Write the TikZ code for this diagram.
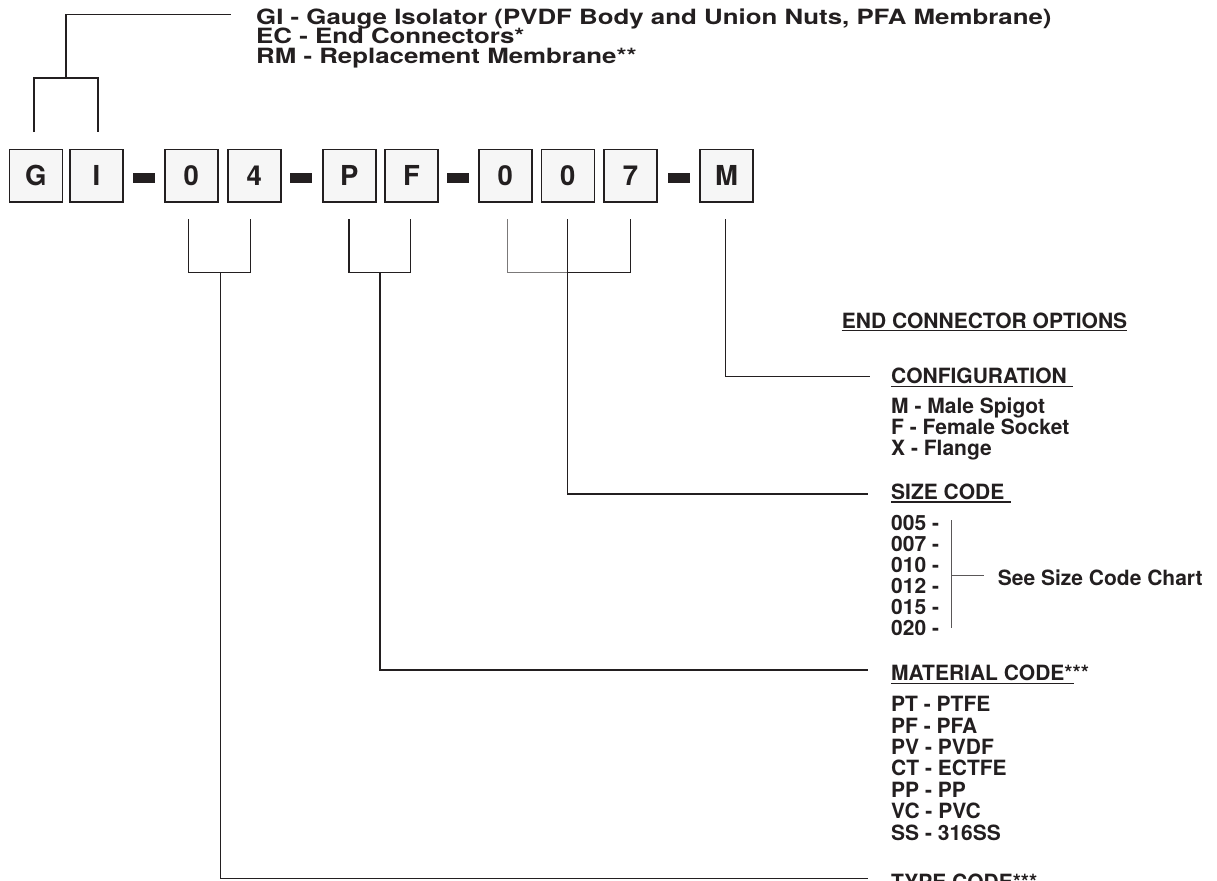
\documentclass[tikz,border=0pt]{standalone}
\usepackage{fontspec}
\usepackage{graphicx}
\setmainfont{TeX Gyre Heros}
\usetikzlibrary{calc}
\definecolor{ink}{HTML}{231F20}
\definecolor{boxfill}{HTML}{F6F6F6}
\begin{document}
\begin{tikzpicture}[x=1pt,y=-1pt,
  cell/.style={draw=ink, line width=1.6pt, fill=boxfill, minimum width=53pt, minimum height=52.4pt, inner sep=0pt, text=ink, font=\fontsize{27.5}{27.5}\selectfont\bfseries},
  dashbar/.style={fill=ink, draw=none, minimum width=22pt, minimum height=10pt, inner sep=0pt},
  conn/.style={draw=ink, line width=1.5pt},
  greyconn/.style={draw=ink!60, line width=1.2pt},
  thinconn/.style={draw=ink!75, line width=0.9pt},
  lbl/.style={anchor=base west, inner sep=0pt, text=ink, font=\fontsize{21}{21}\selectfont\bfseries},
  toplbl/.style={anchor=base west, inner sep=0pt, text=ink, font=\fontsize{21}{19}\selectfont\bfseries},
  uline/.style={draw=ink, line width=1.3pt},
]
\useasboundingbox (0,0) rectangle (1217,880);
\clip (0,0) rectangle (1217,880);
\fill[white] (0,0) rectangle (1217,880);

% code boxes
\node[cell] (g)  at (35.8,175.5)  {G};
\node[cell] (i)  at (96.5,175.5)  {I};
\node[dashbar] (d1) at (144,177.5) {};
\node[cell] (a0) at (191.2,175.5) {0};
\node[cell] (a4) at (254.2,175.5) {4};
\node[dashbar] (d2) at (301,177.5) {};
\node[cell] (p)  at (349.2,175.5) {P};
\node[cell] (f)  at (411.5,175.5) {F};
\node[dashbar] (d3) at (458,177.5) {};
\node[cell] (s0) at (505.2,175.5) {0};
\node[cell] (s1) at (567.8,175.5) {0};
\node[cell] (s7) at (630.5,175.5) {7};
\node[dashbar] (d4) at (679,177.5) {};
\node[cell] (m)  at (726.5,175.5) {M};

% top labels
\node[toplbl] (t1) at (256,24.5) {\scalebox{1.23}[1]{GI - Gauge Isolator (PVDF Body and Union Nuts, PFA Membrane)}};
\node[toplbl] (t2) at (256,44)   {\scalebox{1.23}[1]{EC - End Connectors*}};
\node[toplbl] (t3) at (256,63.5) {\scalebox{1.23}[1]{RM - Replacement Membrane**}};

% top bracket
\coordinate (gb) at (34,132);
\coordinate (ib) at (98,132);
\coordinate (topend) at (231,14.5);
\draw[conn] (gb) -- (34,78) -- (98,78) -- (ib);
\draw[conn] (66,78) -- (66,14.5) -- (topend);

% right labels
\node[lbl] (eco) at (841.7,328) {END CONNECTOR OPTIONS};
\draw[uline] ($(eco.base west)+(0,2.8)$) -- ($(eco.base east)+(0,2.8)$);

\node[lbl] (cfg) at (891,383) {CONFIGURATION};
\draw[uline] ($(cfg.base west)+(0,3.5)$) -- ($(cfg.base east)+(6,3.5)$);
\node[lbl] (c1) at (891,413.5) {M - Male Spigot};
\node[lbl] (c2) at (891,434.7) {F - Female Socket};
\node[lbl] (c3) at (891,455.9) {X - Flange};

\node[lbl] (szc) at (891,499) {SIZE CODE};
\draw[uline] ($(szc.base west)+(0,3)$) -- ($(szc.base east)+(6,3)$);
\node[lbl] (z1) at (891,530)   {005 -};
\node[lbl] (z2) at (891,551.1) {007 -};
\node[lbl] (z3) at (891,572.2) {010 -};
\node[lbl] (z4) at (891,593.3) {012 -};
\node[lbl] (z5) at (891,614.4) {015 -};
\node[lbl] (z6) at (891,635.5) {020 -};
\node[lbl] (chart) at (997.7,585) {See Size Code Chart};
\coordinate (chl) at (984,575);
\draw[thinconn] (951.7,520) -- (951.7,628.3);
\draw[thinconn] (951.7,575) -- (chl);

\node[lbl] (mat) at (891,680.7) {MATERIAL CODE***};
\draw[uline] ($(mat.base west)+(0,2.6)$) -- ++(183,0);
\node[lbl] (m1) at (891,711.7) {PT - PTFE};
\node[lbl] (m2) at (891,733.1) {PF - PFA};
\node[lbl] (m3) at (891,754.5) {PV - PVDF};
\node[lbl] (m4) at (891,775.9) {CT - ECTFE};
\node[lbl] (m5) at (891,797.3) {PP - PP};
\node[lbl] (m6) at (891,818.7) {VC - PVC};
\node[lbl] (m7) at (891,840.1) {SS - 316SS};

\node[lbl] (typ) at (891,889) {TYPE CODE***};

% lower connectors
\coordinate (cfgend) at (870,376.7);
\coordinate (szend) at (868,494);
\coordinate (matend) at (868,670);
\coordinate (typend) at (868,878.3);

\draw[conn] (188.3,219.3) -- (188.3,272.7) -- (250.7,272.7) -- (250.7,219.3);
\draw[conn] (220.7,272.7) |- (typend);

\draw[conn] (349,219.3) -- (349,272.7) -- (410.7,272.7) -- (410.7,219.3);
\draw[conn] (380,272.7) |- (matend);

\draw[greyconn] (507.3,219.3) -- (507.3,272.7) -- (567.7,272.7);
\draw[conn] (567.7,272.7) -- (630.3,272.7) -- (630.3,219.3);
\draw[conn] (567.7,219.3) |- (szend);

\draw[conn] (725.3,219.3) |- (cfgend);
\end{tikzpicture}
\end{document}
